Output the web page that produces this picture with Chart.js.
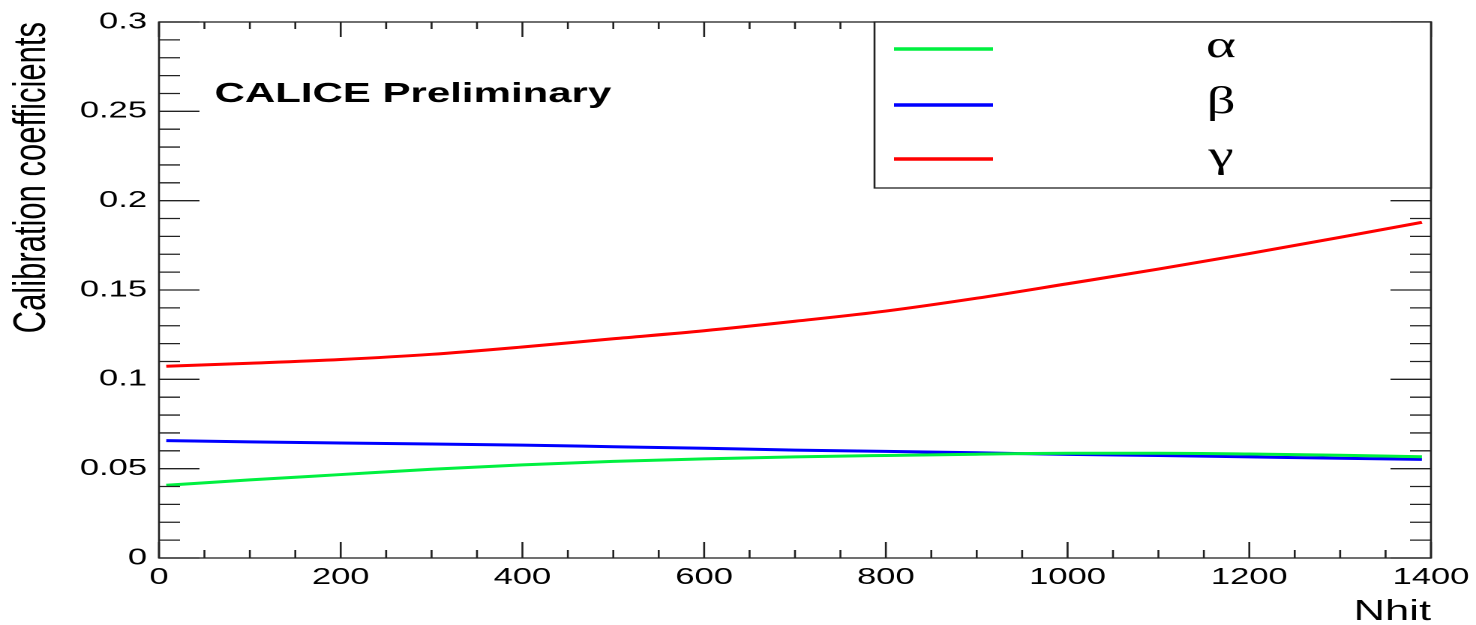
<!DOCTYPE html>
<html>
<head>
<meta charset="utf-8">
<script src="https://cdn.jsdelivr.net/npm/chart.js@4.4.1/dist/chart.umd.min.js"></script>
<style>
  html, body { margin: 0; padding: 0; background: #fff; overflow: hidden; }
  /* the original plot is stretched horizontally, so draw narrow and widen */
  #wrap { width: 984px; height: 625px; transform: scaleX(1.5); transform-origin: 0 0; }
</style>
</head>
<body>
<div id="wrap"><canvas id="chart"></canvas></div>
<script>
// Nhit sample points and the three calibration coefficients
const nhit  = [8, 100, 200, 300, 400, 500, 600, 700, 800, 900, 1000, 1100, 1200, 1300, 1390];
const alpha = [0.0407, 0.0437, 0.0467, 0.0497, 0.0521, 0.0541, 0.0555, 0.0566, 0.0574, 0.0581, 0.0586, 0.0586, 0.0582, 0.0575, 0.0567];
const beta  = [0.0657, 0.0650, 0.0644, 0.0638, 0.0632, 0.0623, 0.0614, 0.0604, 0.0597, 0.0589, 0.0580, 0.0574, 0.0566, 0.0558, 0.0552];
const gamma = [0.1073, 0.1090, 0.1111, 0.1140, 0.1181, 0.1227, 0.1272, 0.1325, 0.1382, 0.1454, 0.1535, 0.1617, 0.1704, 0.1795, 0.1879];

const seriesNames = ['α', 'β', 'γ'];
const seriesColors = ['#00f040', '#0000ff', '#ff0000'];

const xTicks = [0, 200, 400, 600, 800, 1000, 1200, 1400];
const yTicks = [0, 0.05, 0.1, 0.15, 0.2, 0.25, 0.3];

const sans = '"Liberation Sans", Arial, Helvetica, sans-serif';

function toPoints(ys) {
  return nhit.map((x, i) => ({ x: x, y: ys[i] }));
}

// frame, inward ROOT style ticks, titles, legend box
const rootDecor = {
  id: 'rootDecor',
  afterDraw(chart) {
    const ctx = chart.ctx;
    const xs = chart.scales.x, ys = chart.scales.y;
    const a = chart.chartArea;
    ctx.save();
    ctx.strokeStyle = '#222';
    ctx.lineWidth = 1.3;
    ctx.strokeRect(a.left, a.top, a.right - a.left, a.bottom - a.top);

    ctx.beginPath();
    for (let v = 0; v <= 1400 + 1e-6; v += 50) {
      const px = xs.getPixelForValue(v);
      const major = v % 200 === 0;
      ctx.moveTo(px, a.bottom); ctx.lineTo(px, a.bottom - (major ? 16 : 8));
      ctx.moveTo(px, a.top); ctx.lineTo(px, a.top + (major ? 15 : 7));
    }
    for (let k = 0; k <= 30; k++) {
      const py = ys.getPixelForValue(k / 100);
      const major = k % 5 === 0;
      ctx.moveTo(a.left, py); ctx.lineTo(a.left + (major ? 27 : 14), py);
      ctx.moveTo(a.right, py); ctx.lineTo(a.right - (major ? 27 : 14), py);
    }
    ctx.stroke();

    // legend box in the top right corner
    const lx = 583, ly = a.top, lw = a.right - 583, lh = 166;
    ctx.fillStyle = '#fff';
    ctx.fillRect(lx, ly, lw, lh);
    ctx.strokeRect(lx, ly, lw, lh);
    const rows = [49, 105, 159];
    chart.data.datasets.forEach((ds, i) => {
      ctx.strokeStyle = ds.borderColor;
      ctx.lineWidth = 3.5;
      ctx.beginPath();
      ctx.moveTo(596, rows[i]); ctx.lineTo(662, rows[i]);
      ctx.stroke();
      ctx.fillStyle = '#000';
      ctx.font = '38px "Liberation Serif", "Times New Roman", serif';
      ctx.textAlign = 'center';
      ctx.textBaseline = 'alphabetic';
      ctx.fillText(ds.label, 814, rows[i] + 8);
    });

    // labels
    ctx.fillStyle = '#000';
    ctx.font = 'bold 28px ' + sans;
    ctx.textAlign = 'left';
    ctx.fillText('CALICE Preliminary', 143, 102);

    ctx.font = '29px ' + sans;
    ctx.textAlign = 'right';
    ctx.fillText('Nhit', a.right, 620);

    ctx.translate(30, a.top);
    ctx.rotate(-Math.PI / 2);
    ctx.font = '31px ' + sans;
    ctx.textAlign = 'right';
    ctx.fillText('Calibration coefficients', 0, 0);
    ctx.restore();
  }
};

document.addEventListener('DOMContentLoaded', () => {
  const el = document.getElementById('chart');
  new Chart(el.getContext('2d'), {
    type: 'line',
    data: {
      datasets: [alpha, beta, gamma].map((ys, i) => ({
        label: seriesNames[i],
        data: toPoints(ys),
        borderColor: seriesColors[i],
        backgroundColor: seriesColors[i],
        borderWidth: 3,
        pointRadius: 0,
        cubicInterpolationMode: 'monotone',
        fill: false
      }))
    },
    options: {
      responsive: true,
      maintainAspectRatio: false,
      animation: false,
      devicePixelRatio: 2,
      layout: { padding: { top: 22, right: 30, left: 0, bottom: 0 } },
      plugins: {
        legend: { display: false },
        tooltip: { enabled: false }
      },
      scales: {
        x: {
          type: 'linear',
          min: 0,
          max: 1400,
          grid: { display: false, drawTicks: false },
          border: { display: false },
          afterFit: s => { s.height = 67; s.paddingLeft = 0; s.paddingRight = 0; },
          afterBuildTicks: s => { s.ticks = xTicks.map(v => ({ value: v })); },
          ticks: {
            autoSkip: false,
            maxRotation: 0,
            padding: 6,
            color: '#000',
            font: { family: sans, size: 23 },
            callback: v => String(v)
          }
        },
        y: {
          min: 0,
          max: 0.3,
          grid: { display: false, drawTicks: false },
          border: { display: false },
          afterFit: s => { s.width = 106; s.paddingTop = 0; s.paddingBottom = 0; },
          afterBuildTicks: s => { s.ticks = yTicks.map(v => ({ value: v })); },
          ticks: {
            padding: 8,
            color: '#000',
            font: { family: sans, size: 23 },
            callback: v => String(+v.toFixed(2))
          }
        }
      }
    },
    plugins: [rootDecor]
  });
});
</script>
</body>
</html>
